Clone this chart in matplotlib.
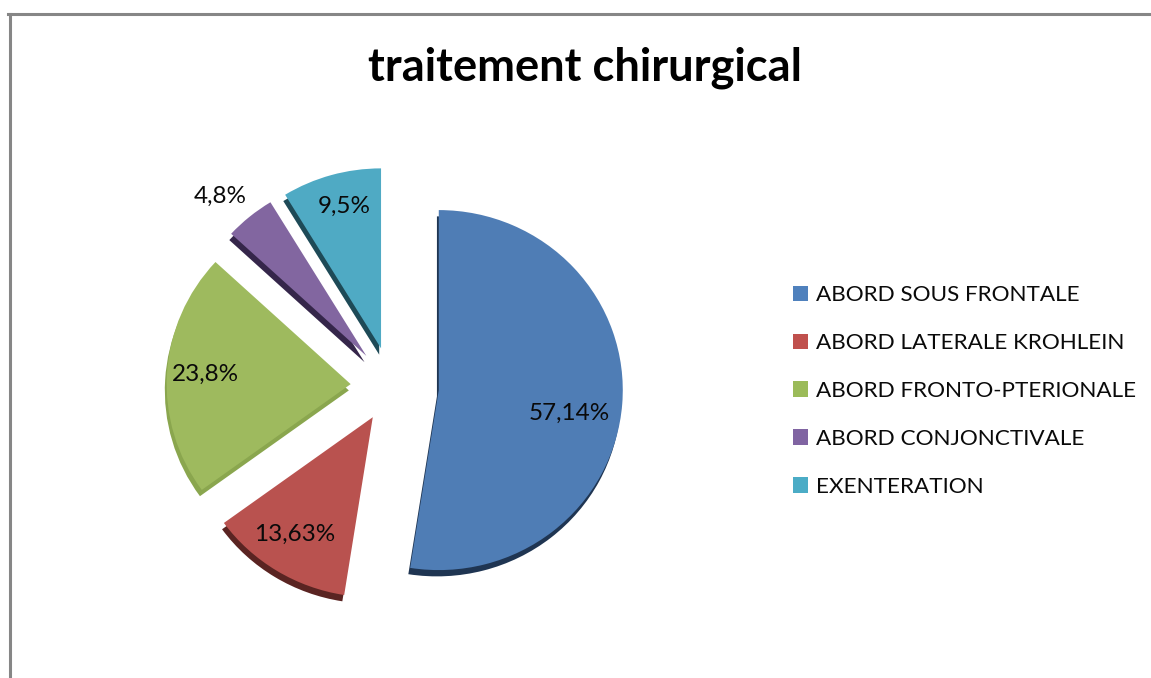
import matplotlib
matplotlib.use("Agg")
import matplotlib.pyplot as plt
from matplotlib.lines import Line2D
from matplotlib.patches import Patch

W, H = 1151, 678

categories = ["ABORD SOUS FRONTALE", "ABORD LATERALE KROHLEIN",
              "ABORD FRONTO-PTERIONALE", "ABORD CONJONCTIVALE", "EXENTERATION"]
values = [57.14, 13.63, 23.8, 4.8, 9.5]
value_labels = ["57,14%", "13,63%", "23,8%", "4,8%", "9,5%"]

colors = ["#4F7DB5", "#B9524F", "#9EBA5E", "#8266A0", "#4FAAC4"]
legend_colors = ["#4F81BD", "#C0504D", "#9BBB59", "#8064A2", "#4BACC6"]
side_colors = ["#1F3552", "#5A2422", "#8AA64E", "#35264A", "#1E4A57"]
explode = [0.255, 0.2, 0.225, 0.22, 0.22]

# centre of the labels, in pixels of the picture
label_pos = [(569, 413), (295, 534), (205, 374), (220, 196), (344, 206)]

plt.rcParams["font.family"] = ["Lato", "DejaVu Sans"]

fig = plt.figure(figsize=(W / 100, H / 100), dpi=100, facecolor="white")

# one pie unit = RX pixels across and RY pixels down, the pie is a bit flattened
RX, RY, cx, cy = 184, 180, 392, 386.5
span = 1.4
ax = fig.add_axes([(cx - span * RX) / W, (H - cy - span * RY) / H,
                   2 * span * RX / W, 2 * span * RY / H])

# dark pie under the top one gives the thickness
ax.pie(values, explode=explode, colors=side_colors, startangle=90,
       counterclock=False, center=(-0.01, -0.035), radius=1)
ax.pie(values, explode=explode, colors=colors, startangle=90,
       counterclock=False, center=(0, 0), radius=1)
ax.set_aspect("auto")
ax.set_xlim(-span, span)
ax.set_ylim(-span, span)

for lab, (x, y) in zip(value_labels, label_pos):
    fig.text(x / W, 1 - y / H, lab, ha="center", va="center",
             fontsize=17.5, color="#0A0A0A")

fig.text(585 / W, 1 - 68 / H, "traitement chirurgical", ha="center", va="center",
         fontsize=32.6, fontweight="bold", color="black")

handles = [Patch(facecolor=c, edgecolor="none") for c in legend_colors]
fig.legend(handles, categories, loc="center left", bbox_to_anchor=(793 / W, 1 - 391 / H),
           frameon=False, fontsize=16.2, handlelength=0.67, handleheight=0.67,
           handletextpad=0.36, labelspacing=1.24, labelcolor="#0A0A0A",
           borderpad=0, borderaxespad=0)

# chart border: only the top and left sides are in the picture
fig.add_artist(Line2D([9.5 / W, 9.5 / W], [0, 1 - 14 / H], color="#868686", lw=2.2))
fig.add_artist(Line2D([8 / W, 1], [1 - 14 / H, 1 - 14 / H], color="#868686", lw=2.2))

fig.savefig("out.png", dpi=100)
